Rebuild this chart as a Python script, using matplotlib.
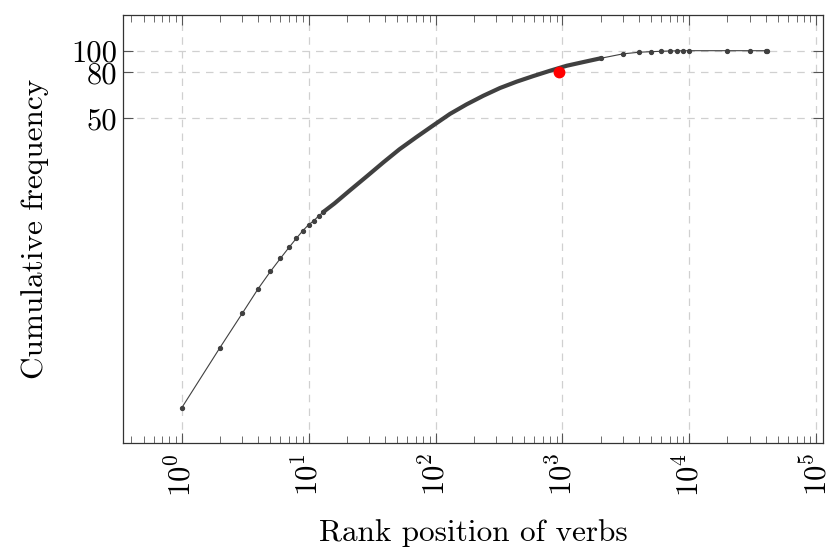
import matplotlib
matplotlib.use("Agg")
import matplotlib.pyplot as plt
from matplotlib.ticker import LogLocator, NullFormatter, FixedLocator, FixedFormatter

plt.rcParams["font.family"] = "cmr10"
plt.rcParams["mathtext.fontset"] = "cm"
plt.rcParams["axes.formatter.use_mathtext"] = True
plt.rcParams["axes.unicode_minus"] = False

# Head of the curve: individual points, ranks 1..13
head_ranks = [1, 2, 3, 4, 5, 6, 7, 8, 9, 10, 11, 12, 13]
head_vals = [2.57, 4.76, 6.77, 8.71, 10.4, 11.9, 13.3, 14.6, 15.8, 16.8, 17.5, 18.4, 19.1]

# Dense middle part (every rank drawn, reads as a thick band)
dense_ranks = [13, 16, 21, 29, 39, 52, 71, 96, 130, 176, 238, 322, 436, 590, 798,
               1081, 1462, 2000]
dense_vals = [19.1, 20.9, 23.8, 27.7, 31.9, 36.4, 41.3, 46.5, 52.3, 57.7, 63.0, 68.2,
              72.8, 77.1, 81.4, 85.7, 89.0, 92.5]

# Sparse tail
tail_ranks = [2000, 3000, 4000, 5000, 6000, 7000, 8000, 9000, 10000, 20000, 30000, 40000, 41000]
tail_vals = [92.5, 96.8, 98.4, 99.0, 99.4, 99.7, 99.9, 100, 100, 100, 100, 100, 100]

# Highlighted point
mark_rank = [940]
mark_val = [80]

y_ticks = [50, 80, 100]

line_col = "#404040"

fig = plt.figure(figsize=(8.3, 5.47), dpi=100)
ax = fig.add_axes([0.1482, 0.1901, 0.8434, 0.7825])

all_r = head_ranks + dense_ranks[1:] + tail_ranks[1:]
all_v = head_vals + dense_vals[1:] + tail_vals[1:]
ax.plot(all_r, all_v, color=line_col, lw=0.8, zorder=3)
ax.plot(dense_ranks, dense_vals, color=line_col, lw=3.0, solid_capstyle="round",
        solid_joinstyle="round", zorder=3)
ax.plot(head_ranks, head_vals, "o", color=line_col, ms=2.8, zorder=4)
ax.plot(tail_ranks, tail_vals, "o", color=line_col, ms=2.8, zorder=4)
ax.plot(mark_rank, mark_val, "o", color="red", ms=7.5, zorder=5)

ax.set_xscale("log")
ax.set_yscale("log")
ax.set_xlim(0.3446, 113200)
ax.set_ylim(1.792, 144.2)

ax.xaxis.set_major_locator(LogLocator(base=10, numticks=10))
ax.xaxis.set_minor_locator(LogLocator(base=10, subs=range(2, 10), numticks=20))
ax.xaxis.set_minor_formatter(NullFormatter())
ax.yaxis.set_major_locator(FixedLocator(y_ticks))
ax.yaxis.set_major_formatter(FixedFormatter([str(t) for t in y_ticks]))
ax.yaxis.set_minor_locator(FixedLocator([]))

ax.tick_params(which="both", direction="in", top=True, right=True, colors="#555555",
               labelcolor="black", labelsize=22)
ax.tick_params(which="major", length=7, width=0.8)
ax.tick_params(which="minor", length=5, width=0.6)
ax.tick_params(axis="x", labelrotation=90, pad=7)
ax.tick_params(axis="y", pad=4)

ax.grid(True, which="major", color="#d0d0d0", linestyle=(0, (6, 5)), lw=0.9)
for s in ax.spines.values():
    s.set_color("#333333")
    s.set_linewidth(0.9)

ax.set_xlabel("Rank position of verbs", fontsize=22.5, labelpad=16)
ax.set_ylabel("Cumulative frequency", fontsize=22.5, labelpad=16)

fig.savefig("out.png", dpi=100, facecolor="white")
